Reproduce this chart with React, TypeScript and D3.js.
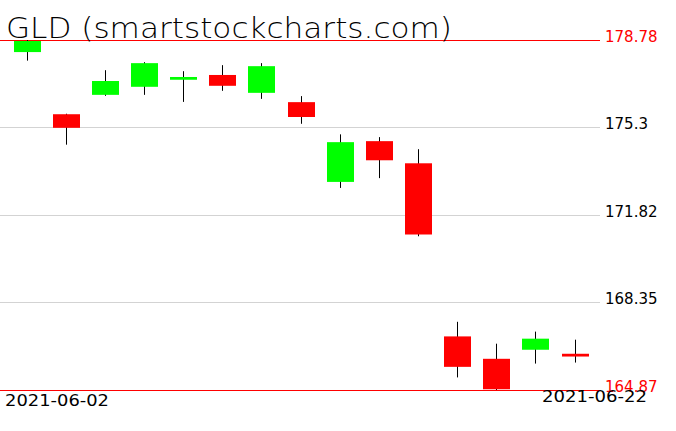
import React from 'react';
import * as d3 from 'd3';

const dates = [
  '2021-06-02', '2021-06-03', '2021-06-04', '2021-06-07', '2021-06-08',
  '2021-06-09', '2021-06-10', '2021-06-11', '2021-06-14', '2021-06-15',
  '2021-06-16', '2021-06-17', '2021-06-18', '2021-06-21', '2021-06-22',
];
const open = [178.3, 175.83, 176.6, 176.92, 177.2, 177.39, 176.68, 176.31, 173.14, 174.76, 173.88, 167.0, 166.11, 166.47, 166.31];
const high = [178.78, 175.85, 177.58, 177.9, 177.54, 177.78, 177.86, 176.55, 175.03, 174.92, 174.44, 167.58, 166.71, 167.19, 166.87];
const low = [177.96, 174.62, 176.56, 176.6, 176.32, 176.76, 176.44, 175.45, 172.9, 173.29, 170.98, 165.37, 164.87, 165.92, 165.96];
const close = [178.74, 175.29, 177.15, 177.86, 177.31, 176.96, 177.74, 175.72, 174.72, 174.0, 171.05, 165.79, 164.9, 166.91, 166.2];
const priceTicks = [178.78, 175.3, 171.82, 168.35, 164.87];

const W = 676;
const H = 431;
const font = '"DejaVu Sans", sans-serif';

export default function App() {
  const x = d3.scalePoint<string>().domain(dates).range([26.5, 574.5]);
  const y = d3.scaleLinear().domain([164.87, 178.78]).range([390, 40]);
  const bw = 27;
  const py = (v: number) => Math.floor(y(v)) + 0.5;
  const maxTick = d3.max(priceTicks) as number;
  const minTick = d3.min(priceTicks) as number;

  return (
    <svg width={W} height={H} style={{ position: 'absolute', left: 0, top: 0, background: '#fff' }}>
      {priceTicks.map((t) => {
        const edge = t === maxTick || t === minTick;
        return (
          <g key={t}>
            <line x1={0} x2={600} y1={py(t)} y2={py(t)} stroke={edge ? '#ff0000' : '#d3d3d3'} strokeWidth={1} />
            <text x={605} y={py(t) + 1} fontFamily={font} fontSize={15} fill={edge ? '#ff0000' : '#000'}>
              {String(t)}
            </text>
          </g>
        );
      })}
      {dates.map((d, i) => {
        const cx = Math.round(x(d) as number) + 0.5;
        const up = close[i] >= open[i];
        const top = y(Math.max(open[i], close[i]));
        const bot = y(Math.min(open[i], close[i]));
        return (
          <g key={d}>
            <line x1={cx} x2={cx} y1={y(high[i])} y2={y(low[i])} stroke="#000" strokeWidth={1} />
            <rect
              x={cx - bw / 2}
              y={top}
              width={bw}
              height={Math.max(bot - top, 2)}
              fill={up ? '#00ff00' : '#ff0000'}
            />
          </g>
        );
      })}
      <text x={6} y={38} fontFamily={font} fontWeight={200} fontSize={29} textLength={446} lengthAdjust="spacingAndGlyphs" fill="#000">
        GLD (smartstockcharts.com)
      </text>
      <text x={5} y={406} fontFamily={font} fontSize={15} textLength={104} lengthAdjust="spacingAndGlyphs" fill="#000">
        {dates[0]}
      </text>
      <text x={542} y={402} fontFamily={font} fontSize={15} textLength={105} lengthAdjust="spacingAndGlyphs" fill="#000">
        {dates[dates.length - 1]}
      </text>
    </svg>
  );
}
